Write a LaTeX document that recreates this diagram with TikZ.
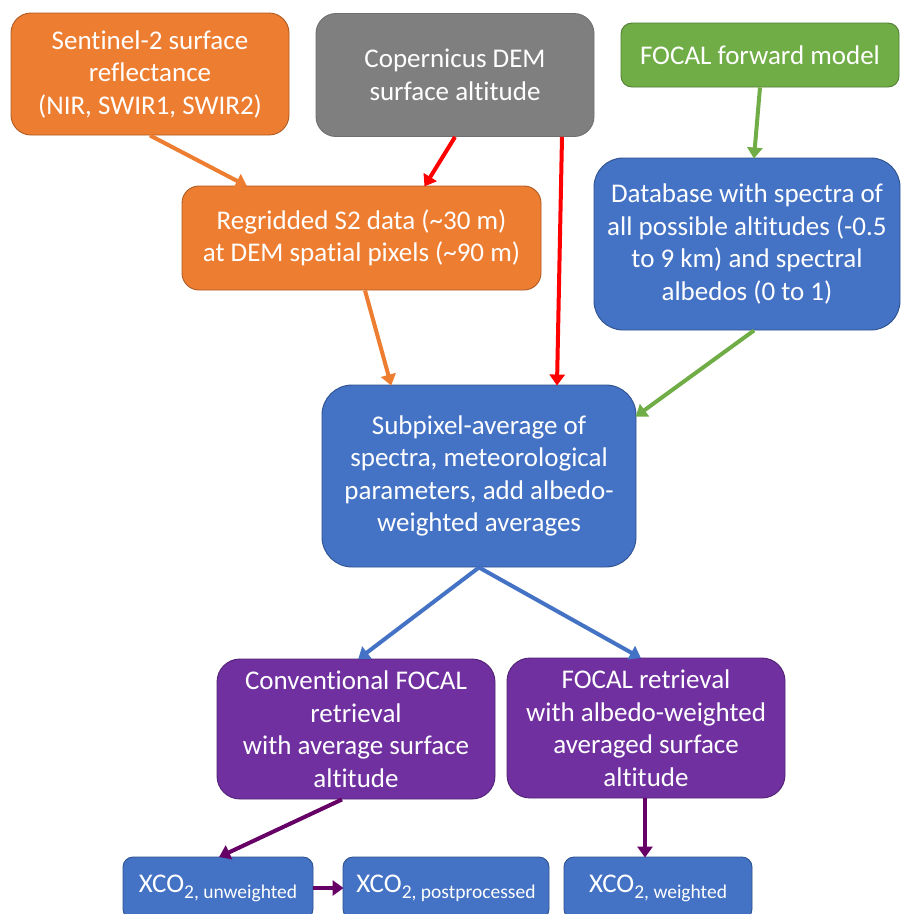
\documentclass[tikz,border=0pt]{standalone}
\usepackage{fontspec}
\setmainfont[Ligatures=NoCommon]{Carlito}
\usetikzlibrary{arrows.meta}
\definecolor{cOrange}{HTML}{ED7D31}
\definecolor{cOrangeB}{HTML}{AE5A21}
\definecolor{cGray}{HTML}{7F7F7F}
\definecolor{cGrayB}{HTML}{6F6F6F}
\definecolor{cGreen}{HTML}{70AD47}
\definecolor{cGreenB}{HTML}{507E32}
\definecolor{cBlue}{HTML}{4472C4}
\definecolor{cBlueB}{HTML}{2F528F}
\definecolor{cPurple}{HTML}{7030A0}
\definecolor{cPurpleB}{HTML}{512274}
\definecolor{cArrPurple}{HTML}{660066}
\definecolor{cRed}{HTML}{FF0000}
\tikzset{
  box/.style={draw, line width=0.9pt, text=white, align=center, inner sep=0pt,
    font=\fontsize{27}{32.5}\selectfont},
  obox/.style={box, fill=cOrange, draw=cOrangeB},
  gbox/.style={box, fill=cGray, draw=cGrayB},
  grbox/.style={box, fill=cGreen, draw=cGreenB},
  bbox/.style={box, fill=cBlue, draw=cBlueB},
  pbox/.style={box, fill=cPurple, draw=cPurpleB},
  conn/.style={line width=4pt, -{Triangle[length=11pt,width=15pt]}, shorten >=-1pt},
}
\newcommand{\xsub}[1]{XCO\raisebox{-6pt}{\fontsize{19.5}{19.5}\selectfont 2, #1}}
\begin{document}
\begin{tikzpicture}[x=1pt,y=-1pt]
\useasboundingbox (0,0) rectangle (901,914);
\fill[white] (0,0) rectangle (901,914);

\node[obox, minimum width=278pt, minimum height=122pt, rounded corners=20pt] (s2) at (150,74)
  {Sentinel-2 surface\\reflectance\\(NIR, SWIR1, SWIR2)};
\node[gbox, minimum width=278pt, minimum height=123pt, rounded corners=20pt] (dem) at (455,75)
  {Copernicus DEM\\surface altitude};
\node[grbox, minimum width=278pt, minimum height=64pt, rounded corners=11pt] (fw) at (760,55)
  {FOCAL forward model};
\node[obox, minimum width=359pt, minimum height=104pt, rounded corners=17pt] (regrid) at (361.5,238)
  {Regridded S2 data (\textasciitilde 30 m)\\at DEM spatial pixels (\textasciitilde 90 m)};
\node[bbox, minimum width=306pt, minimum height=172pt, rounded corners=29pt] (db) at (747,244)
  {Database with spectra of\\all possible altitudes (-0.5\\to 9 km) and spectral\\albedos (0 to 1)};
\node[bbox, minimum width=314pt, minimum height=182pt, rounded corners=30pt] (sub) at (479,476)
  {Subpixel-average of\\spectra, meteorological\\parameters, add albedo-\\weighted averages};
\node[pbox, minimum width=278pt, minimum height=140pt, rounded corners=23pt] (conv) at (356,729)
  {Conventional FOCAL\\retrieval\\with average surface\\altitude};
\node[pbox, minimum width=278pt, minimum height=140pt, rounded corners=23pt] (ret) at (646,728)
  {FOCAL retrieval\\with albedo-weighted\\averaged surface\\altitude};
\node[bbox, minimum width=190pt, minimum height=62pt, rounded corners=10pt] (xu) at (218,888)
  {\xsub{unweighted}};
\node[bbox, minimum width=206pt, minimum height=62pt, rounded corners=10pt] (xp) at (446,888)
  {\xsub{postprocessed}};
\node[bbox, minimum width=188pt, minimum height=62pt, rounded corners=10pt] (xw) at (658,888)
  {\xsub{weighted}};

\draw[conn, cOrange] (s2.south) -- ([xshift=-115.5pt]regrid.north);
\draw[conn, cRed] (dem.south) -- ([xshift=63.5pt]regrid.north);
\draw[conn, cRed] ([xshift=107pt]dem.south) -- ([xshift=78pt]sub.north);
\draw[conn, cGreen] (fw.south) -- ([xshift=7pt]db.north);
\draw[conn, cOrange] ([xshift=3.5pt]regrid.south) -- ([xshift=-88pt]sub.north);
\draw[conn, cGreen] ([xshift=7pt]db.south) -- ([yshift=60pt]sub.east);
\draw[conn, cBlue] (sub.south) -- ([xshift=3pt]conv.north);
\draw[conn, cBlue] (sub.south) -- ([xshift=-6pt]ret.north);
\draw[conn, cArrPurple] ([xshift=-14pt]conv.south) -- ([xshift=2pt]xu.north);
\draw[conn, cArrPurple] ([xshift=-1pt]ret.south) -- ([xshift=-13pt]xw.north);
\draw[conn, cArrPurple] (xu.east) -- (xp.west);
\end{tikzpicture}
\end{document}
